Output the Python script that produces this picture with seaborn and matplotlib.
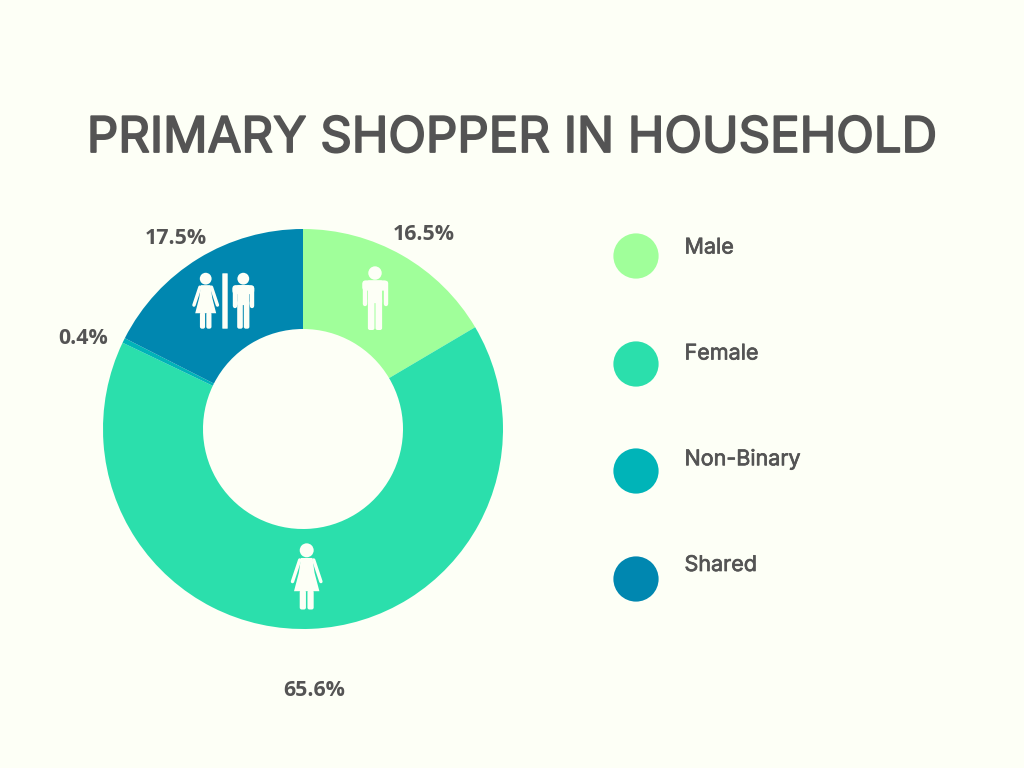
import matplotlib
matplotlib.use("Agg")
import matplotlib.pyplot as plt
import matplotlib.patheffects as pe
from matplotlib.patches import Circle, Polygon, FancyBboxPatch
import pandas as pd
import seaborn as sns

categories = ["Male", "Female", "Non-Binary", "Shared"]
shares = [16.5, 65.6, 0.4, 17.5]
share_labels = ["16.5%", "65.6%", "0.4%", "17.5%"]
colors = ["#A0FF9A", "#2BDFAC", "#00B4B8", "#0087B0"]

title = "PRIMARY SHOPPER IN HOUSEHOLD"
bg = "#FDFFF6"
ink = "#545454"

sns.set_theme(style="white", rc={"figure.facecolor": bg, "axes.facecolor": "none"})
plt.rcParams["font.family"] = ["Inter", "DejaVu Sans"]

fig = plt.figure(figsize=(10.24, 7.68), dpi=100, facecolor=bg)

# donut, centre 303,429 radius 200 in pixels
ax = fig.add_axes([103 / 1024, 1 - 629 / 768, 400 / 1024, 400 / 768])
ax.pie(shares, colors=sns.color_palette(colors), startangle=90, counterclock=False,
       radius=1, wedgeprops={"width": 0.5, "linewidth": 0})
ax.set_xlim(-1, 1)
ax.set_ylim(-1, 1)

# overlay in pixel coordinates for text, icons and the legend
ov = fig.add_axes([0, 0, 1, 1])
ov.set_xlim(0, 1024)
ov.set_ylim(768, 0)
ov.axis("off")


def heavier(w):
    # the installed Inter only draws regular, so thicken it a little
    return [pe.withStroke(linewidth=w, foreground=ink)]


ov.text(512, 139, title, ha="center", va="center", fontsize=35.4, color=ink,
        path_effects=heavier(1.3))

label_pos = [(424, 234), (314, 691), (83.5, 338), (175.5, 238)]
for txt, (x, y) in zip(share_labels, label_pos):
    ov.text(x, y, txt, ha="center", va="center", fontsize=15.4, fontweight="bold",
            family="Open Sans", color=ink)

legend = pd.DataFrame({"name": categories, "x": 636, "y": [256, 364, 471, 579]})
sns.scatterplot(data=legend, x="x", y="y", hue="name", palette=colors, s=1060,
                linewidth=0, legend=False, ax=ov)
ov.set_xlim(0, 1024)
ov.set_ylim(768, 0)
for name, y in zip(categories, [247.5, 353.5, 459, 565]):
    ov.text(684.5, y, name, ha="left", va="center", fontsize=15.5, color=ink,
            path_effects=heavier(0.5))


def bar(x0, y0, x1, y1, r=1.5):
    ov.add_patch(FancyBboxPatch((x0 + r, y0 + r), x1 - x0 - 2 * r, y1 - y0 - 2 * r,
                                boxstyle=f"round,pad={r}", fc=bg, ec="none"))


def limb(x0, y0, x1, y1, w):
    ov.plot([x0, x1], [y0, y1], color=bg, lw=w * 0.72, solid_capstyle="round")


def man(cx, top, bottom, half):
    h = bottom - top
    ov.add_patch(Circle((cx, top + 0.11 * h), 0.105 * h, fc=bg, ec="none"))
    sh = top + 0.225 * h
    # shoulders, then arms and legs hanging off them
    bar(cx - half, sh, cx + half, sh + 0.16 * h, 3.5)
    limb(cx - half + 2.2, sh + 3, cx - half + 2.2, top + 0.6 * h, 4.4)
    limb(cx + half - 2.2, sh + 3, cx + half - 2.2, top + 0.6 * h, 4.4)
    leg = 0.56 * half
    bar(cx - leg, sh, cx + leg, top + 0.58 * h, 1)
    bar(cx - leg, top + 0.5 * h, cx - 0.5, bottom, 2)
    bar(cx + 0.5, top + 0.5 * h, cx + leg, bottom, 2)


def woman(cx, top, bottom, half):
    h = bottom - top
    ov.add_patch(Circle((cx, top + 0.11 * h), 0.105 * h, fc=bg, ec="none"))
    sh = top + 0.225 * h
    hem = top + 0.725 * h
    ov.add_patch(Polygon([(cx - 0.45 * half, sh), (cx + 0.45 * half, sh), (cx + 0.62 * half, top + 0.45 * h),
                          (cx + half, hem), (cx - half, hem), (cx - 0.62 * half, top + 0.45 * h)],
                         closed=True, fc=bg, ec="none"))
    limb(cx - 0.55 * half, sh + 2, cx - 1.12 * half, top + 0.58 * h, 3.4)
    limb(cx + 0.55 * half, sh + 2, cx + 1.12 * half, top + 0.58 * h, 3.4)
    bar(cx - 0.55 * half, hem - 1, cx - 0.06 * half, bottom, 2)
    bar(cx + 0.06 * half, hem - 1, cx + 0.55 * half, bottom, 2)


man(375, 266, 330, 12.7)
woman(306.7, 543, 609.5, 12.7)
woman(205.7, 272.5, 328.7, 10.5)
bar(222.3, 273.3, 227.7, 328.7, 0.5)
man(243.3, 272.5, 328.7, 10.9)

fig.savefig("out.png", dpi=100, facecolor=bg)
